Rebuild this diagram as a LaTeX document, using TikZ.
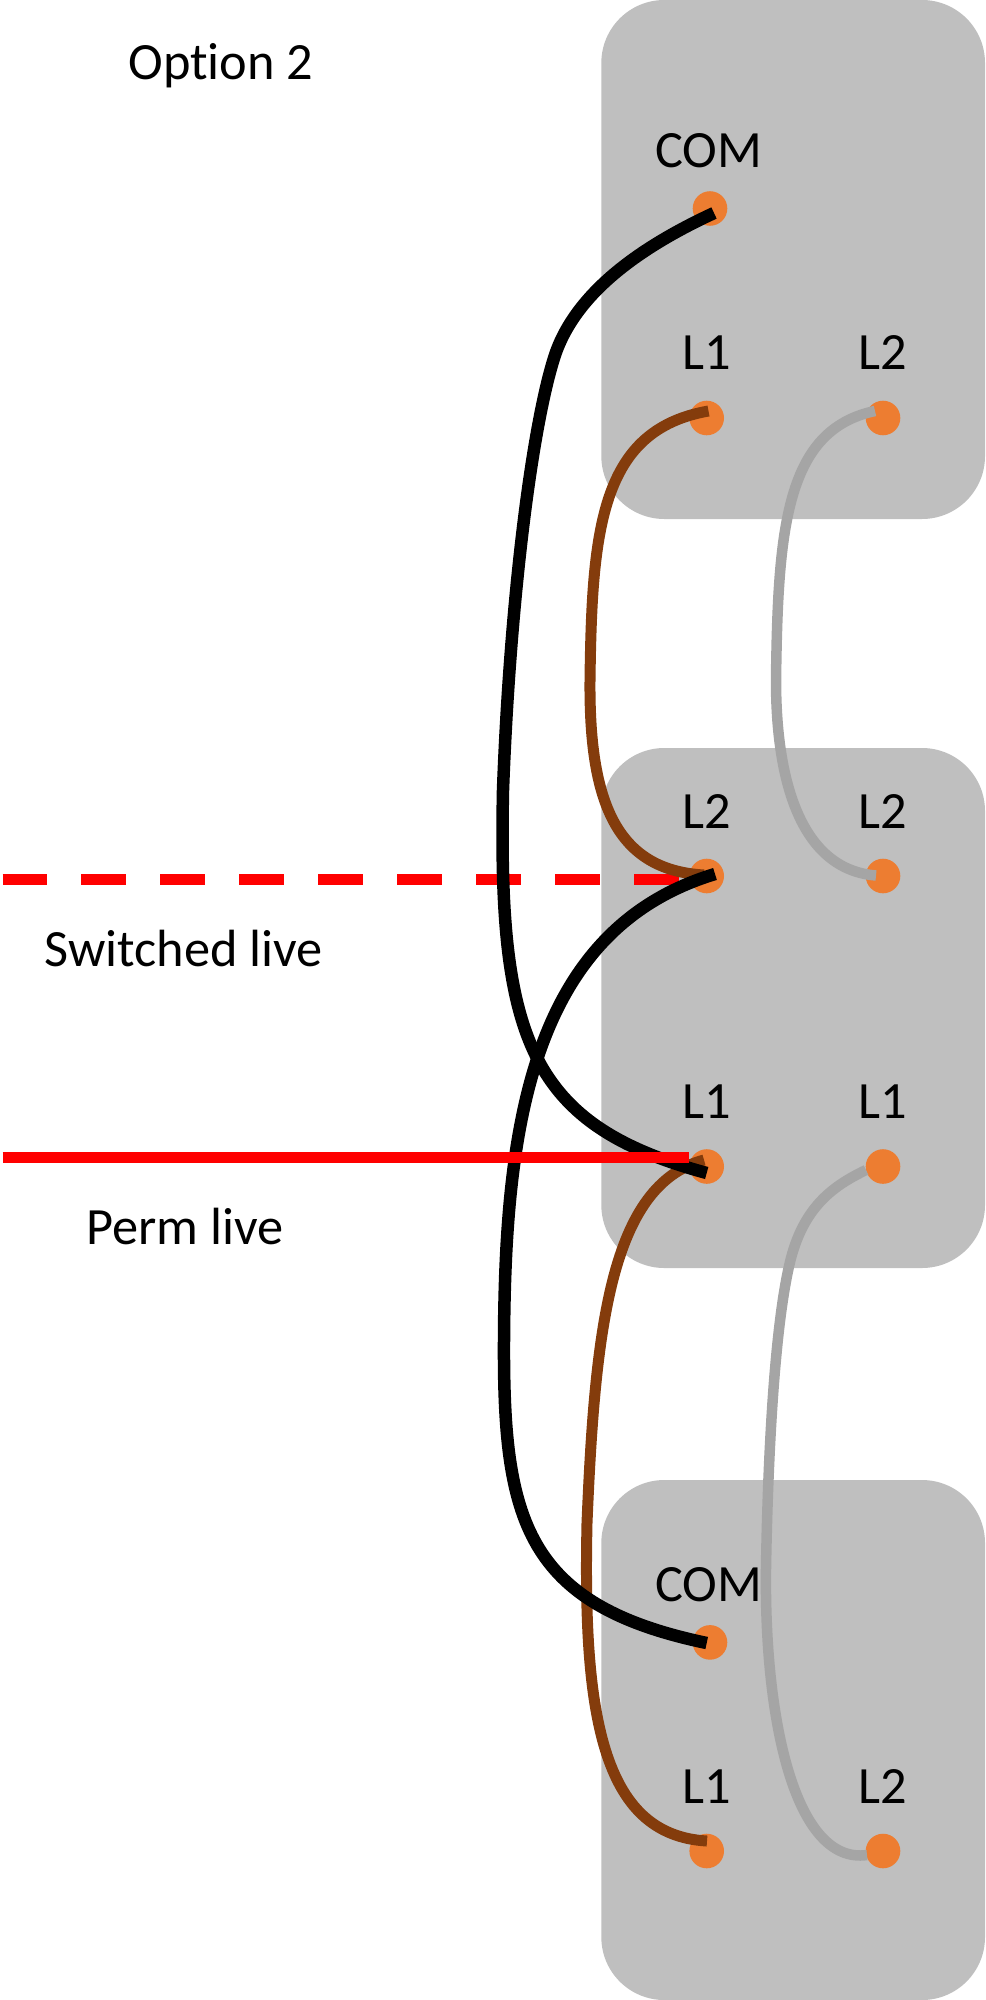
\documentclass[tikz,border=0pt]{standalone}
\usepackage{fontspec}
\setmainfont[Ligatures=NoCommon]{Carlito}
\definecolor{boxgray}{HTML}{BFBFBF}
\definecolor{termorange}{HTML}{ED7D31}
\definecolor{wirebrown}{HTML}{843C0C}
\definecolor{wiregray}{HTML}{A5A5A5}
\tikzset{
  x=0.02cm,y=-0.02cm,
  panel/.style={fill=boxgray,draw=none,rounded corners=1.26cm},
  terminal/.style={circle,fill=termorange,draw=none,minimum size=0.692cm,inner sep=0pt},
  lab/.style={anchor=base,inner sep=0pt,font=\fontsize{29.8pt}{31pt}\selectfont},
  blackwire/.style={draw=black,line width=0.25cm},
  brownwire/.style={draw=wirebrown,line width=0.22cm},
  graywire/.style={draw=wiregray,line width=0.21cm},
  live/.style={draw=red,line width=0.23cm},
  switched/.style={live,dash pattern=on 0.9cm off 0.68cm}
}
\begin{document}
\begin{tikzpicture}
\useasboundingbox (0,0) rectangle (985,2000);
% switch plates
\path[panel] (601.3,0) rectangle (985,519);
\path[panel] (601.3,748) rectangle (985,1268);
\path[panel] (601.3,1480) rectangle (985,2000);
% terminals
\node[terminal] (comA) at (710,208.5) {};
\node[terminal] (aLone) at (706.7,418) {};
\node[terminal] (aLtwo) at (883,418) {};
\node[terminal] (bLtwoL) at (706.7,876) {};
\node[terminal] (bLtwoR) at (883,876) {};
\node[terminal] (bLoneL) at (706.7,1166.5) {};
\node[terminal] (bLoneR) at (883,1166.5) {};
\node[terminal] (comC) at (710,1642.4) {};
\node[terminal] (cLone) at (706.7,1851) {};
\node[terminal] (cLtwo) at (883,1851) {};
% labels
\node[lab] (tOption) at (221,80) {Option 2};
\node[lab] (tCOMa) at (708.6,167.4) {COM};
\node[lab] (tLa) at (706.7,369.6) {L1};
\node[lab] (tLb) at (883,369.6) {L2};
\node[lab] (tLc) at (706.7,828.6) {L2};
\node[lab] (tLd) at (883,828.6) {L2};
\node[lab] (tSwitched) at (184,966.5) {Switched live};
\node[lab] (tLe) at (706.7,1118) {L1};
\node[lab] (tLf) at (883,1118) {L1};
\node[lab] (tPerm) at (185,1244.6) {Perm live};
\node[lab] (tCOMc) at (708.6,1601) {COM};
\node[lab] (tLg) at (706.7,1803.6) {L1};
\node[lab] (tLh) at (883,1803.6) {L2};
% wire ends
\coordinate (sL) at (2.5,879.4);
\coordinate (sR) at (680,879.4);
\coordinate (pL) at (2.5,1157.3);
\coordinate (pR) at (689,1157.3);
\coordinate (kA) at (714,213);
\coordinate (kB) at (706.7,1173);
\coordinate (kC) at (715,874);
\coordinate (kD) at (706.7,1643);
\coordinate (bA) at (708.5,411);
\coordinate (bB) at (704,875);
\coordinate (bC) at (704,1160);
\coordinate (bD) at (707,1841);
\coordinate (gA) at (875,411);
\coordinate (gB) at (876,875.5);
\coordinate (gC) at (866,1170);
\coordinate (gD) at (867,1855);
% switched live
\draw[switched] (sL) -- (sR);
% brown
\draw[brownwire] (bA) .. controls (600,430) and (592,530) .. (590,680)
  .. controls (589,800) and (615,870) .. (bB);
\draw[brownwire] (bC) .. controls (610,1185) and (595,1330) .. (587,1523)
  .. controls (583,1710) and (600,1835) .. (bD);
% gray
\draw[graywire] (gA) .. controls (785,430) and (778,530) .. (776,680)
  .. controls (776,790) and (805,870) .. (gB);
\draw[graywire] (gC) .. controls (835,1185) and (805,1205) .. (791,1258)
  .. controls (775,1320) and (768,1450) .. (766,1568)
  .. controls (764,1720) and (795,1865) .. (gD);
% black
\draw[blackwire] (kA) .. controls (645,245) and (577,290) .. (555,355)
  .. controls (532,425) and (510,600) .. (503,790)
  .. controls (498,1040) and (530,1125) .. (kB);
\draw[blackwire] (kC) .. controls (530,930) and (505,1130) .. (504,1340)
  .. controls (503,1520) and (525,1605) .. (kD);
% permanent live
\draw[live] (pL) -- (pR);
\end{tikzpicture}
\end{document}
